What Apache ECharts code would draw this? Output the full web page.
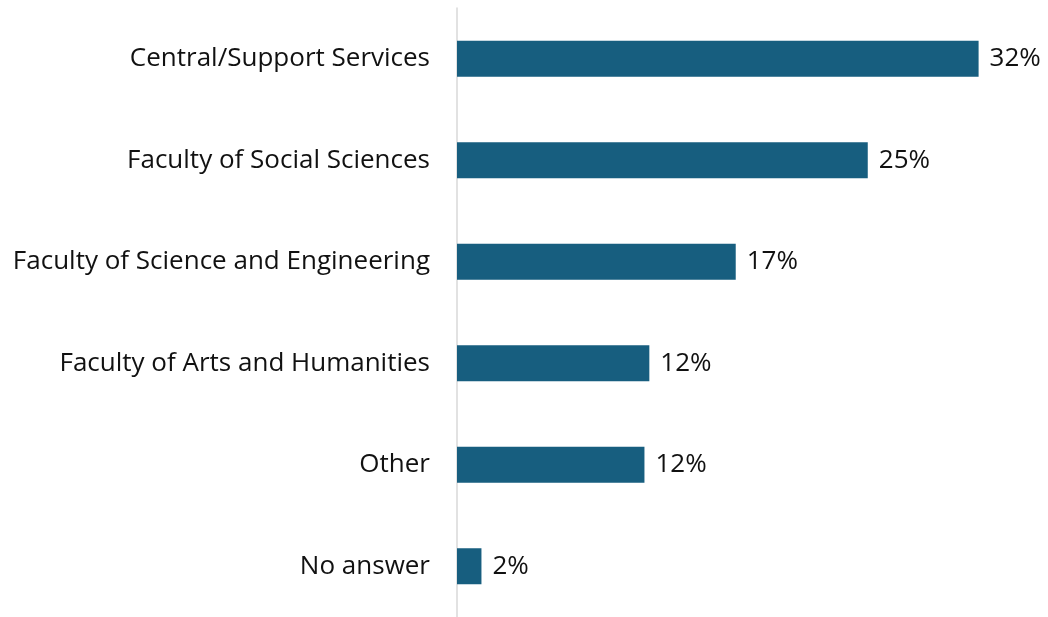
<!DOCTYPE html>
<html>
<head>
<meta charset="utf-8">
<script src="https://cdn.jsdelivr.net/npm/echarts@6/dist/echarts.min.js"></script>
<style>
  html, body { margin: 0; padding: 0; background: #ffffff; }
  #chart { width: 1048px; height: 617px; }
</style>
</head>
<body>
<div id="chart"></div>
<script>
// Share of respondents by area (percent), top to bottom
const categories = [
  'Central/Support Services',
  'Faculty of Social Sciences',
  'Faculty of Science and Engineering',
  'Faculty of Arts and Humanities',
  'Other',
  'No answer'
];
const shares = [32.0, 25.2, 17.1, 11.8, 11.5, 1.5];

const FONT = 'Open Sans';
const chart = echarts.init(document.getElementById('chart'));

chart.setOption({
  animation: false,
  backgroundColor: '#ffffff',
  grid: { left: 457, right: 20.5, top: 8, bottom: -4, containLabel: false },
  xAxis: {
    type: 'value',
    min: 0,
    max: 35,
    show: false
  },
  yAxis: {
    type: 'category',
    data: categories,
    inverse: true,
    axisLine: { show: true, lineStyle: { color: '#d9d9d9', width: 1.5 } },
    axisTick: { show: false },
    axisLabel: {
      color: '#111111',
      fontFamily: FONT,
      fontSize: 26,
      margin: 27
    }
  },
  series: [{
    type: 'bar',
    data: shares,
    barWidth: 36,
    itemStyle: { color: '#175e7f' },
    label: {
      show: true,
      position: 'right',
      distance: 11,
      color: '#111111',
      fontFamily: FONT,
      fontSize: 26,
      formatter: p => Math.round(p.value) + '%'
    }
  }]
});
</script>
</body>
</html>
